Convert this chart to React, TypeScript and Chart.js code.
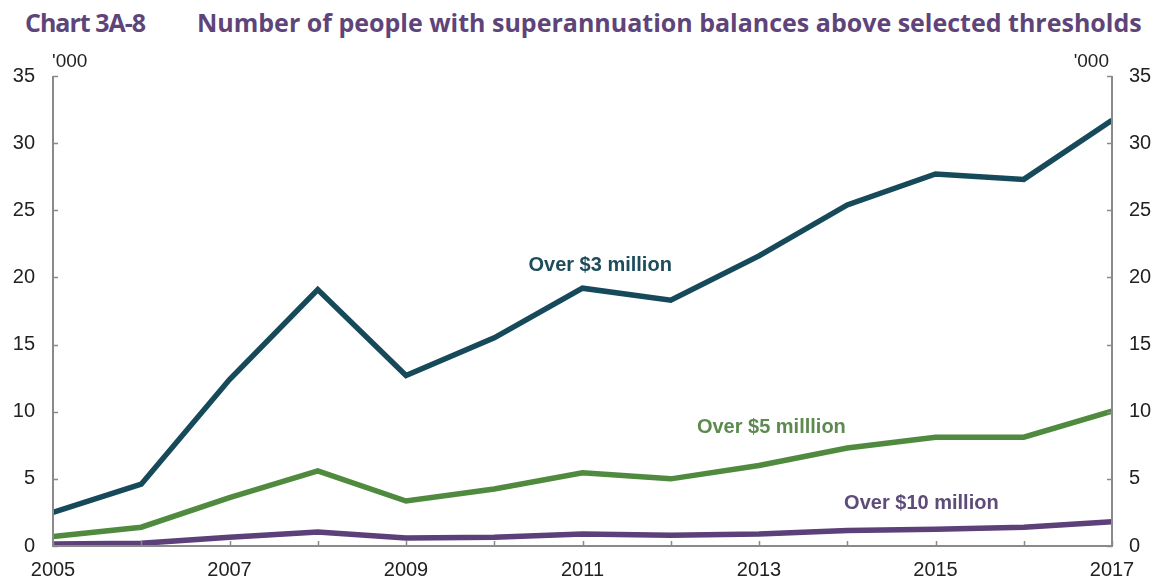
import React, { useEffect, useRef } from "react";
import { Chart, registerables } from "chart.js";

Chart.register(...registerables);

const years = [2005, 2006, 2007, 2008, 2009, 2010, 2011, 2012, 2013, 2014, 2015, 2016, 2017];
const over3m = [2.5, 4.6, 12.4, 19.1, 12.7, 15.5, 19.2, 18.3, 21.6, 25.4, 27.7, 27.3, 31.7];
const over5m = [0.7, 1.4, 3.6, 5.6, 3.35, 4.25, 5.45, 5.0, 6.0, 7.3, 8.1, 8.1, 10.05];
const over10m = [0.15, 0.2, 0.65, 1.05, 0.6, 0.65, 0.9, 0.8, 0.9, 1.15, 1.25, 1.4, 1.8];
const yTicks = [0, 5, 10, 15, 20, 25, 30, 35];
const xLabelYears = [2005, 2007, 2009, 2011, 2013, 2015, 2017];
const seriesNames = ["Over $3 million", "Over $5 milllion", "Over $10 million"];
const labelAnchors = [
  { x: 2011.2, y: 20.9 },
  { x: 2013.14, y: 8.86 },
  { x: 2014.84, y: 3.2 },
];
const unitLabel = "'000";
const titleLeft = "Chart 3A-8";
const titleRight = "Number of people with superannuation balances above selected thresholds";

const colors = ["#16495a", "#4f8a3f", "#5b4079"];
const textColors = ["#1d4d5b", "#5c8a4f", "#5e4c78"];
const axisColor = "#8a8a8a";
const fam = "'Liberation Sans', Arial, sans-serif";

const decorPlugin = {
  id: "decor",
  afterDatasetsDraw(chart: any) {
    const { ctx, chartArea, scales } = chart;
    const xs = scales.x;
    const yl = scales.y;
    ctx.save();
    ctx.strokeStyle = axisColor;
    ctx.lineWidth = 2;
    ctx.beginPath();
    ctx.moveTo(chartArea.left, chartArea.top);
    ctx.lineTo(chartArea.left, chartArea.bottom);
    ctx.lineTo(chartArea.right, chartArea.bottom);
    ctx.lineTo(chartArea.right, chartArea.top);
    ctx.stroke();
    ctx.lineWidth = 1.5;
    ctx.beginPath();
    yTicks.forEach((v) => {
      const py = Math.round(yl.getPixelForValue(v)) + 0.5;
      ctx.moveTo(chartArea.left, py);
      ctx.lineTo(chartArea.left + 5, py);
      ctx.moveTo(chartArea.right, py);
      ctx.lineTo(chartArea.right - 5, py);
    });
    years.forEach((yr) => {
      const px = Math.round(xs.getPixelForValue(yr)) + 0.5;
      ctx.moveTo(px, chartArea.bottom);
      ctx.lineTo(px, chartArea.bottom - 5);
    });
    ctx.stroke();
    ctx.fillStyle = "#222";
    ctx.font = "19px " + fam;
    ctx.textBaseline = "alphabetic";
    ctx.textAlign = "left";
    ctx.fillText(unitLabel, chartArea.left - 1, chartArea.top - 9);
    ctx.textAlign = "right";
    ctx.fillText(unitLabel, chartArea.right - 3, chartArea.top - 9);
    ctx.font = "bold 20px " + fam;
    ctx.textAlign = "center";
    ctx.textBaseline = "middle";
    seriesNames.forEach((name, i) => {
      const a = labelAnchors[i];
      ctx.fillStyle = textColors[i];
      ctx.fillText(name, xs.getPixelForValue(a.x), yl.getPixelForValue(a.y));
    });
    ctx.restore();
  },
};

export default function App() {
  const ref = useRef<HTMLCanvasElement | null>(null);
  useEffect(() => {
    if (!ref.current) return;
    const mk = (i: number, data: number[]) => ({
      label: seriesNames[i],
      data: years.map((yr, k) => ({ x: yr, y: data[k] })),
      borderColor: colors[i],
      backgroundColor: colors[i],
      borderWidth: 5.5,
      pointRadius: 0,
      tension: 0,
      borderJoinStyle: "miter" as const,
    });
    const tickFont = { family: fam, size: 20 };
    const chart = new Chart(ref.current, {
      type: "line",
      data: { datasets: [mk(2, over10m), mk(1, over5m), mk(0, over3m)] },
      plugins: [decorPlugin],
      options: {
        animation: false,
        responsive: false,
        maintainAspectRatio: false,
        layout: { padding: { top: 76, left: 0, right: 0, bottom: 0 } },
        plugins: { legend: { display: false }, tooltip: { enabled: false }, title: { display: false } },
        scales: {
          x: {
            type: "linear",
            min: 2005,
            max: 2017,
            afterBuildTicks: (s: any) => {
              s.ticks = xLabelYears.map((v) => ({ value: v }));
            },
            afterFit: (s: any) => {
              s.height = 34;
            },
            grid: { display: false, drawTicks: false },
            border: { display: false },
            ticks: {
              color: "#222",
              font: tickFont,
              padding: 12,
              maxRotation: 0,
              autoSkip: false,
              callback: (v: any) => String(v),
            },
          },
          y: {
            position: "left",
            min: 0,
            max: 35,
            afterBuildTicks: (s: any) => {
              s.ticks = yTicks.map((v) => ({ value: v }));
            },
            afterFit: (s: any) => {
              s.width = 53;
            },
            grid: { display: false, drawTicks: false },
            border: { display: false },
            ticks: { color: "#222", font: tickFont, padding: 18 },
          },
          y2: {
            position: "right",
            min: 0,
            max: 35,
            afterBuildTicks: (s: any) => {
              s.ticks = yTicks.map((v) => ({ value: v }));
            },
            afterFit: (s: any) => {
              s.width = 48;
            },
            grid: { display: false, drawTicks: false },
            border: { display: false },
            ticks: { color: "#222", font: tickFont, padding: 17 },
          },
        },
      },
    } as any);
    return () => chart.destroy();
  }, []);

  const titleStyle: React.CSSProperties = {
    position: "absolute",
    top: 10,
    fontFamily: "'Open Sans', sans-serif",
    fontWeight: 700,
    fontSize: 25,
    lineHeight: "25px",
    color: "#5e4479",
    whiteSpace: "nowrap",
  };

  return (
    <div style={{ position: "fixed", left: 0, top: 0, width: 1160, height: 580, background: "#fff" }}>
      <div style={{ ...titleStyle, left: 25, letterSpacing: -1 }}>{titleLeft}</div>
      <div style={{ ...titleStyle, left: 197 }}>{titleRight}</div>
      <canvas ref={ref} width={1160} height={580} style={{ position: "absolute", left: 0, top: 0 }} />
    </div>
  );
}
